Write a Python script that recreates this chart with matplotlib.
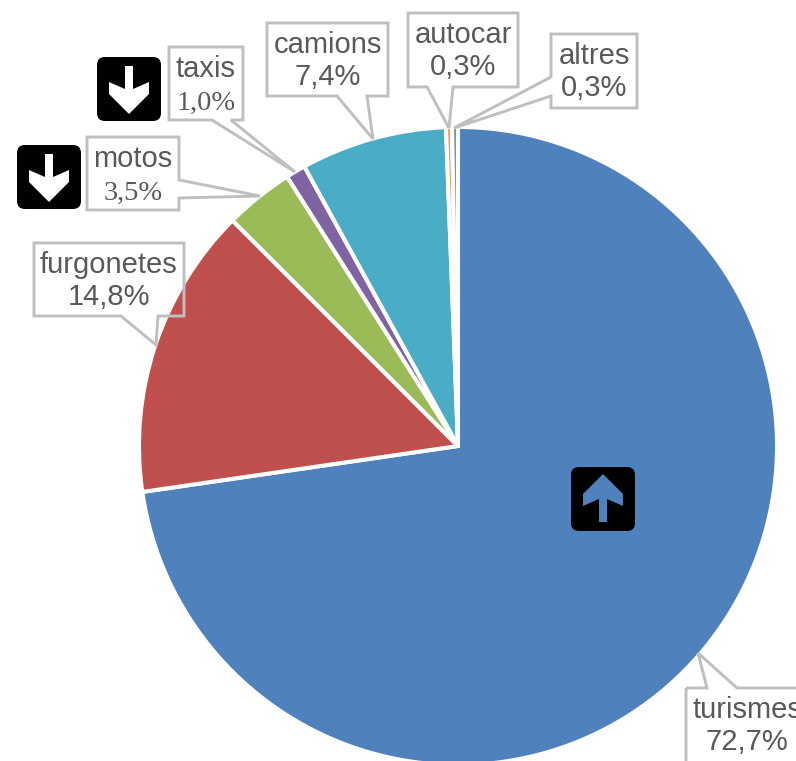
import matplotlib
matplotlib.use('Agg')
import matplotlib.pyplot as plt
from matplotlib.patches import FancyBboxPatch, Polygon

categories = ['turismes', 'furgonetes', 'motos', 'taxis', 'camions', 'autocar', 'altres']
shares = [72.7, 14.8, 3.5, 1.0, 7.4, 0.3, 0.3]
colors = ['#4F81BD', '#C0504D', '#9BBB59', '#8064A2', '#4BACC6', '#F79646', '#7C93B5']

# label box: x0, y0, x1, y1, then the tail as base, tip, base (pixels, y down)
callouts = {
    'turismes': ((686, 688, 810, 775), [(707, 688), (698, 653), (737, 688)]),
    'furgonetes': ((34, 243, 184, 316), [(121, 316), (156, 345), (158, 316)]),
    'motos': ((87, 137, 179, 210), [(179, 180), (260, 196), (179, 198)]),
    'taxis': ((169, 47, 243, 120), [(212, 120), (295, 172), (231, 120)]),
    'camions': ((267, 23, 388, 96), [(337, 96), (373, 139), (367, 96)]),
    'autocar': ((408, 13, 518, 87), [(427, 87), (449, 128), (453, 87)]),
    'altres': ((551, 34, 637, 108), [(551, 77), (454, 128), (551, 96)]),
}
serif_values = ['motos', 'taxis']

GREY_TEXT = '#595959'
GREY_LINE = '#BFBFBF'

fig = plt.figure(figsize=(7.96, 7.61), dpi=100)
ax = fig.add_axes([0, 0, 1, 1])

# y axis runs downwards so everything is in picture pixels,
# which is why the clockwise pie is counterclock=True here
ax.pie(shares, colors=colors, center=(458, 446), radius=319, startangle=270,
       counterclock=True, frame=True,
       wedgeprops={'edgecolor': 'white', 'linewidth': 2.9, 'joinstyle': 'round'})
ax.set_xlim(0, 796)
ax.set_ylim(761, 0)
ax.set_aspect('equal')
ax.axis('off')


def draw_callout(name, share):
    (x0, y0, x1, y1), tail = callouts[name]
    base_a, tip, base_b = tail
    # the outline walks round the box and out to the tip; the box is not filled
    if base_a[0] == x1:
        pts = [(x0, y0), (x1, y0), base_a, tip, base_b, (x1, y1), (x0, y1)]
    elif base_a[0] == x0:
        pts = [(x0, y0), (x1, y0), (x1, y1), (x0, y1), base_b, tip, base_a]
    elif base_a[1] == y1:
        pts = [(x0, y0), (x1, y0), (x1, y1), base_b, tip, base_a, (x0, y1)]
    else:
        pts = [(x0, y0), base_a, tip, base_b, (x1, y0), (x1, y1), (x0, y1)]
    ax.add_patch(Polygon(pts, closed=True, fill=False, edgecolor=GREY_LINE,
                         linewidth=2.1, joinstyle='miter'))
    xc = (x0 + x1) / 2 if name != 'turismes' else 747
    ax.text(xc, y0 + 22, name, ha='center', va='center', fontsize=21,
            family='Liberation Sans', color=GREY_TEXT)
    value = f'{share:.1f}%'.replace('.', ',')
    if name in serif_values:
        ax.text(xc, y0 + 56, value, ha='center', va='center', fontsize=20.5,
                family='Liberation Serif', color=GREY_TEXT)
    else:
        ax.text(xc, y0 + 54, value, ha='center', va='center', fontsize=21,
                family='Liberation Sans', color=GREY_TEXT)


def draw_icon(cx, cy, arrow_color, up=False):
    ax.add_patch(FancyBboxPatch((cx - 27, cy - 27), 54, 54,
                                boxstyle='round,pad=5,rounding_size=8',
                                facecolor='black', edgecolor='none'))
    arrow = [(-4, -23), (4, -23), (4, 0), (20, -7), (20, 5), (0, 25),
             (-20, 5), (-20, -7), (-4, 0)]
    sign = -1 if up else 1
    ax.add_patch(Polygon([(cx + x, cy + sign * y) for x, y in arrow], closed=True,
                         facecolor=arrow_color, edgecolor='none'))


for name, share in zip(categories, shares):
    draw_callout(name, share)

draw_icon(129, 89, 'white')
draw_icon(49, 177, 'white')
draw_icon(603, 499, colors[0], up=True)

fig.savefig('out.png', dpi=100)
